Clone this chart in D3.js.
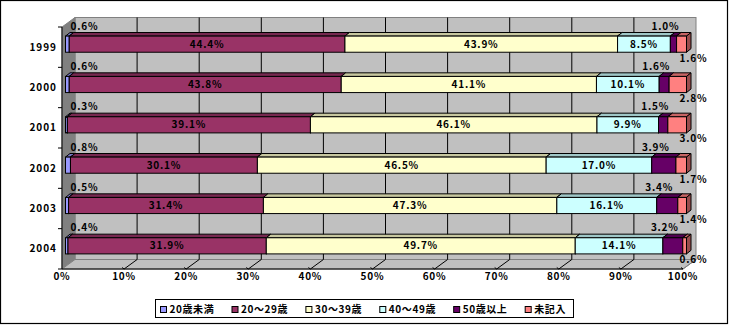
<!DOCTYPE html>
<html>
<head>
<meta charset="utf-8">
<script src="https://cdn.jsdelivr.net/npm/d3@7/dist/d3.min.js"></script>
<style>
  html, body { margin: 0; padding: 0; background: #fff; }
  svg text { font-family: "Noto Sans CJK JP", "DejaVu Sans", sans-serif; font-weight: 700; fill: #000; }
</style>
</head>
<body>
<svg id="chart" width="730" height="326"></svg>
<script>
// Age distribution by year (percent of total)
const years = ["1999", "2000", "2001", "2002", "2003", "2004"];
const groups = ["20歳未満", "20～29歳", "30～39歳", "40～49歳", "50歳以上", "未記入"];
const under20   = [0.6, 0.6, 0.3, 0.8, 0.5, 0.4];
const age20s    = [44.4, 43.8, 39.1, 30.1, 31.4, 31.9];
const age30s    = [43.9, 41.1, 46.1, 46.5, 47.3, 49.7];
const age40s    = [8.5, 10.1, 9.9, 17.0, 16.1, 14.1];
const age50plus = [1.0, 1.6, 1.5, 3.9, 3.4, 3.2];
const unknown   = [1.6, 2.8, 3.0, 1.7, 1.4, 0.6];
const xTicks = [0, 10, 20, 30, 40, 50, 60, 70, 80, 90, 100];
const colors = ["#9999FF", "#993366", "#FFFFCC", "#CCFFFF", "#660066", "#FF8080"];

const series = [under20, age20s, age30s, age40s, age50plus, unknown];
const rows = years.map((yr, i) => {
  const r = { year: yr };
  groups.forEach((g, k) => { r[g] = series[k][i]; });
  return r;
});

const svg = d3.select("#chart");

// outer frame
svg.append("rect").attr("x", 0.5).attr("y", 0.5).attr("width", 727).attr("height", 323)
  .attr("fill", "#fff").attr("stroke", "#000").attr("stroke-width", 1.2);

// front plane of the 3D box
const x = d3.scaleLinear().domain([0, 100]).range([62, 683]);
const y = d3.scaleBand().domain(years).range([27, 269]).padding(0);
const depth = { dx: 13, dy: 9.5 };          // wall depth
const barOff = { dx: 3.5, dy: 3 };          // bar front offset inside the box
const barDepth = { dx: 4.5, dy: 3.6 };      // bar thickness
const barH = y.step() * 0.4;

const plotTop = 27, plotBottom = 269;

// back wall
svg.append("rect")
  .attr("x", x(0) + depth.dx).attr("y", plotTop - depth.dy)
  .attr("width", x(100) - x(0)).attr("height", plotBottom - plotTop)
  .attr("fill", "#C0C0C0").attr("stroke", "#808080").attr("stroke-width", 1);

// left wall
svg.append("polygon")
  .attr("points", [[x(0), plotTop], [x(0) + depth.dx, plotTop - depth.dy],
                   [x(0) + depth.dx, plotBottom - depth.dy], [x(0), plotBottom]].join(" "))
  .attr("fill", "#808080").attr("stroke", "#808080");

// floor
svg.append("polygon")
  .attr("points", [[x(0), plotBottom], [x(0) + depth.dx, plotBottom - depth.dy],
                   [x(100) + depth.dx, plotBottom - depth.dy], [x(100), plotBottom]].join(" "))
  .attr("fill", "#C0C0C0").attr("stroke", "#808080");

// gridlines on the back wall and floor
const grid = svg.append("g");
xTicks.forEach(t => {
  if (t > 0 && t < 100) {
    grid.append("line")
      .attr("x1", x(t) + depth.dx).attr("x2", x(t) + depth.dx)
      .attr("y1", plotTop - depth.dy).attr("y2", plotBottom - depth.dy)
      .attr("stroke", "#000").attr("stroke-width", 1);
  }
  if (t > 0) {
    grid.append("line")
      .attr("x1", x(t)).attr("y1", plotBottom)
      .attr("x2", x(t) + depth.dx).attr("y2", plotBottom - depth.dy)
      .attr("stroke", t < 100 ? "#000" : "#808080").attr("stroke-width", 1);
    grid.append("line")
      .attr("x1", x(t) - 2).attr("y1", plotBottom - 1.5)
      .attr("x2", x(t)).attr("y2", plotBottom)
      .attr("stroke", "#000").attr("stroke-width", 1);
  }
});

// axis lines
svg.append("line").attr("x1", x(0)).attr("x2", x(0)).attr("y1", plotTop).attr("y2", plotBottom)
  .attr("stroke", "#000");
svg.append("line").attr("x1", x(0)).attr("x2", x(100)).attr("y1", plotBottom).attr("y2", plotBottom)
  .attr("stroke", "#000");
d3.range(years.length + 1).forEach(i => {
  const yy = plotTop + i * y.step();
  svg.append("line").attr("x1", x(0) - 4).attr("x2", x(0)).attr("y1", yy).attr("y2", yy)
    .attr("stroke", "#000");
});

// category labels
svg.append("g").selectAll("text").data(years).join("text")
  .attr("x", 57).attr("y", d => y(d) + y.step() / 2)
  .attr("dy", "0.35em").attr("text-anchor", "end")
  .attr("font-size", 10).attr("letter-spacing", 1)
  .text(d => d);

// percent tick labels
svg.append("g").selectAll("text").data(xTicks).join("text")
  .attr("x", d => x(d)).attr("y", 276)
  .attr("dy", "0.35em").attr("text-anchor", "middle")
  .attr("font-size", 10).attr("letter-spacing", 0.8)
  .text(d => d + "%");

// stacked 100% bars
const stacked = d3.stack().keys(groups)
  .offset(d3.stackOffsetExpand)(rows);

const shade = (c, k) => {
  const col = d3.rgb(c);
  return d3.rgb(col.r * k, col.g * k, col.b * k).formatHex();
};

const bars = svg.append("g");
const segs = [];
years.forEach((yr, i) => {
  const cy = y(yr) + y.step() / 2 - barOff.dy;
  const y0 = cy - barH / 2, y1 = cy + barH / 2;
  stacked.forEach((s, k) => {
    const a = x(s[i][0] * 100) + barOff.dx;
    const b = x(s[i][1] * 100) + barOff.dx;
    segs.push({ k, a, b, y0, y1, value: series[k][i] });
    const g = bars.append("g");
    // top face
    g.append("polygon")
      .attr("points", [[a, y0], [a + barDepth.dx, y0 - barDepth.dy],
                       [b + barDepth.dx, y0 - barDepth.dy], [b, y0]].join(" "))
      .attr("fill", shade(colors[k], 0.78)).attr("stroke", "#000").attr("stroke-width", 1)
      .attr("stroke-linejoin", "round");
    // right side face
    g.append("polygon")
      .attr("points", [[b, y0], [b + barDepth.dx, y0 - barDepth.dy],
                       [b + barDepth.dx, y1 - barDepth.dy], [b, y1]].join(" "))
      .attr("fill", shade(colors[k], 0.6)).attr("stroke", "#000").attr("stroke-width", 1);
    // front face
    g.append("rect")
      .attr("x", a).attr("y", y0).attr("width", b - a).attr("height", y1 - y0)
      .attr("fill", colors[k]).attr("stroke", "#000").attr("stroke-width", 1);
  });
});

// value labels
const labels = svg.append("g").attr("font-size", 10).attr("letter-spacing", 0.8);
segs.forEach(s => {
  let lx, ly, anchor = "middle";
  if (s.k === 0) { lx = s.a + 5; ly = s.y0 - 10; anchor = "start"; }
  else if (s.k === 4) { lx = (s.a + s.b) / 2 - 8; ly = s.y0 - 10; }
  else if (s.k === 5) { lx = s.b + 7; ly = s.y1 + 6; }
  else { lx = (s.a + s.b) / 2; ly = (s.y0 + s.y1) / 2; }
  labels.append("text")
    .attr("x", lx).attr("y", ly).attr("dy", "0.35em")
    .attr("text-anchor", anchor)
    .text(s.value.toFixed(1) + "%");
});

// legend
const legend = svg.append("g");
legend.append("rect").attr("x", 155.5).attr("y", 299.5).attr("width", 418).attr("height", 18)
  .attr("fill", "#fff").attr("stroke", "#000");
const items = groups.map((g, k) => {
  const it = legend.append("g");
  it.append("rect").attr("width", 6).attr("height", 6).attr("y", 306.5)
    .attr("fill", colors[k]).attr("stroke", "#000").attr("stroke-width", 1);
  const t = it.append("text").attr("y", 309.5).attr("dy", "0.35em")
    .attr("font-size", 10).attr("letter-spacing", 0.6).text(g);
  return { it, t, w: t.node().getComputedTextLength() };
});
const startX = 160.5, endX = 566;
const total = d3.sum(items, d => d.w + 9);
const gap = (endX - startX - total) / (items.length - 1);
let cx = startX;
items.forEach(d => {
  d.it.select("rect").attr("x", cx);
  d.t.attr("x", cx + 9);
  cx += 9 + d.w + gap;
});
</script>
</body>
</html>
